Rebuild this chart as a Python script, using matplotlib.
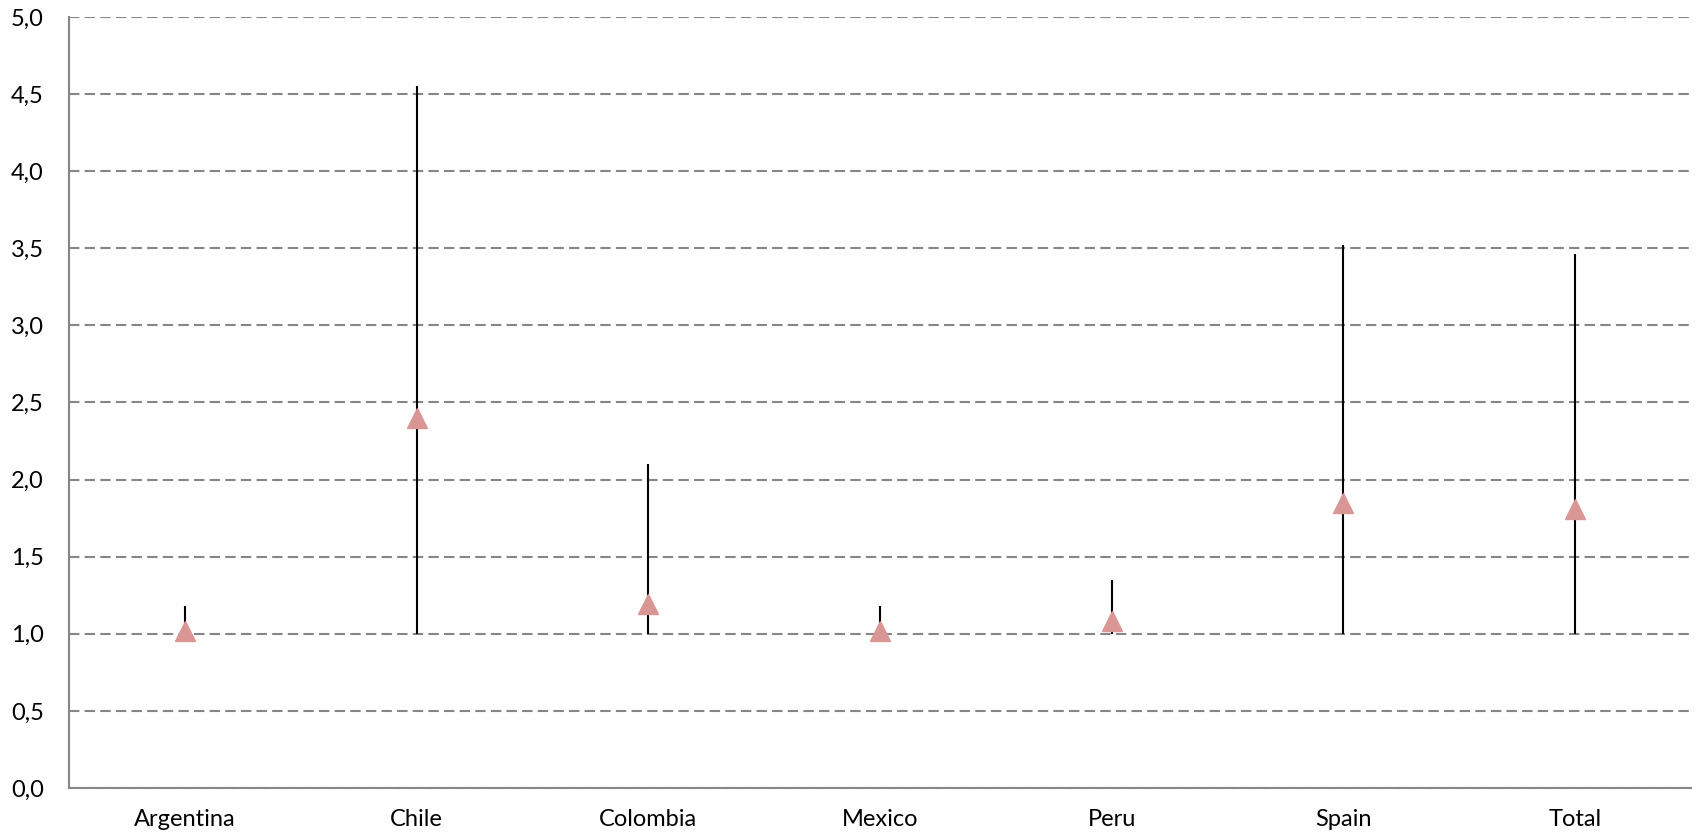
import numpy as np
import matplotlib.pyplot as plt
from matplotlib.ticker import MultipleLocator, FuncFormatter

# countries and their ranges (min / max) with the mean marker
countries = ['Argentina', 'Chile', 'Colombia', 'Mexico', 'Peru', 'Spain', 'Total']
low_vals = [1.0, 1.0, 1.0, 1.0, 1.0, 1.0, 1.0]
high_vals = [1.18, 4.55, 2.10, 1.18, 1.35, 3.52, 3.46]
mean_vals = [1.02, 2.40, 1.19, 1.02, 1.08, 1.85, 1.81]

plt.rcParams['font.family'] = ['Lato', 'DejaVu Sans']

fig = plt.figure(figsize=(16.98, 8.38), dpi=100)
ax = fig.add_axes([0.0406, 0.0597, 0.9553, 0.92])

x = np.arange(len(countries))

# range lines
ax.vlines(x, low_vals, high_vals, color='black', linewidth=1.5, zorder=3)

# mean markers
ax.plot(x, mean_vals, linestyle='none', marker='^', markersize=14,
        color='#D99694', markeredgecolor='#D99694', zorder=4)

ax.set_xlim(-0.5, len(countries) - 0.5)
ax.set_ylim(0, 5)
ax.yaxis.set_major_locator(MultipleLocator(0.5))
ax.yaxis.set_major_formatter(FuncFormatter(lambda v, p: f'{v:.1f}'.replace('.', ',')))
ax.set_xticks(x)
ax.set_xticklabels(countries)

# dashed horizontal grid
ax.grid(axis='y', color='#868686', linestyle=(0, (5, 2.5)), linewidth=1.5, zorder=1)
ax.set_axisbelow(True)

for side in ['top', 'right']:
    ax.spines[side].set_visible(False)
for side in ['left', 'bottom']:
    ax.spines[side].set_color('#868686')
    ax.spines[side].set_linewidth(1.5)

ax.tick_params(axis='both', length=0, labelsize=17, colors='black')
ax.tick_params(axis='y', pad=18)
ax.tick_params(axis='x', pad=15)

plt.savefig('out.png', dpi=100)
